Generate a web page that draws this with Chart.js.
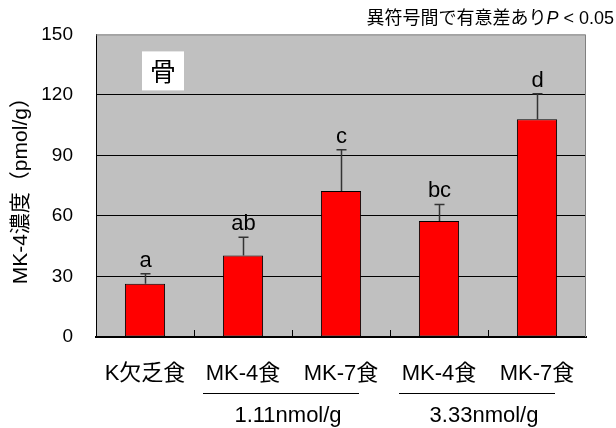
<!DOCTYPE html>
<html>
<head>
<meta charset="utf-8">
<script src="https://cdn.jsdelivr.net/npm/chart.js@4"></script>
<style>
html,body{margin:0;padding:0;background:#fff;}
#wrap{width:616px;height:428px;position:relative;}
</style>
</head>
<body>
<div id="wrap"><canvas id="c" width="616" height="428"></canvas></div>
<script>
// ---- data ----
const categories = ['K欠乏食', 'MK-4食', 'MK-7食', 'MK-4食', 'MK-7食'];
const means = [26.4, 40.4, 72.4, 57.5, 108.0];
const errors = [4.9, 9.0, 20.4, 8.2, 12.6];
const letters = ['a', 'ab', 'c', 'bc', 'd'];
const yTicks = [0, 30, 60, 90, 120, 150];
const groupLabels = ['1.11nmol/g', '3.33nmol/g'];
const groupFirst = [1, 3];
const groupLast = [2, 4];
const panelTitle = '骨';
const noteText = '異符号間で有意差あり';
const noteP = 'P';
const noteTail = ' < 0.05';
const yTitle = 'MK-4濃度（pmol/g）';

const FONT = '"Liberation Sans", "Noto Sans CJK JP", Arial, sans-serif';

const deco = {
  id: 'deco',
  beforeDraw(chart) {
    const {ctx, chartArea: a} = chart;
    ctx.save();
    ctx.fillStyle = '#c0c0c0';
    ctx.fillRect(a.left, a.top, a.right - a.left, a.bottom - a.top);
    ctx.restore();
  },
  afterDatasetsDraw(chart) {
    const {ctx, chartArea: a} = chart;
    const xs = chart.scales.x, ys = chart.scales.y;
    ctx.save();
    // right & top border
    ctx.strokeStyle = '#808080';
    ctx.lineWidth = 1;
    ctx.beginPath();
    ctx.moveTo(a.left, a.top + 0.5); ctx.lineTo(a.right - 0.5, a.top + 0.5);
    ctx.lineTo(a.right - 0.5, a.bottom);
    ctx.stroke();
    // x tick marks between categories (inside)
    ctx.strokeStyle = '#000';
    ctx.beginPath();
    for (let i = 1; i < categories.length; i++) {
      const x = Math.round((xs.getPixelForValue(i - 1) + xs.getPixelForValue(i)) / 2) + 0.5;
      ctx.moveTo(x, a.bottom); ctx.lineTo(x, a.bottom - 7);
    }
    ctx.stroke();
    // error bars + letters
    const meta = chart.getDatasetMeta(0);
    meta.data.forEach((bar, i) => {
      const x = Math.round(bar.x) + 0.5;
      const yTop = ys.getPixelForValue(means[i]);
      const yErr = ys.getPixelForValue(means[i] + errors[i]);
      ctx.strokeStyle = '#333';
      ctx.lineWidth = 1.5;
      ctx.beginPath();
      ctx.moveTo(x, yTop); ctx.lineTo(x, yErr);
      ctx.moveTo(x - 5, yErr); ctx.lineTo(x + 5, yErr);
      ctx.stroke();
      ctx.fillStyle = '#000';
      ctx.font = '22px ' + FONT;
      ctx.textAlign = 'center';
      ctx.textBaseline = 'alphabetic';
      ctx.fillText(letters[i], x, yErr - 7);
    });
    // panel title box
    ctx.fillStyle = '#fff';
    ctx.fillRect(a.left + 46, a.top + 17, 42, 39);
    ctx.fillStyle = '#000';
    ctx.font = '26px "Noto Sans CJK JP"';
    ctx.textAlign = 'center';
    ctx.textBaseline = 'middle';
    ctx.fillText(panelTitle, a.left + 67, a.top + 37);
    ctx.restore();
  },
  afterDraw(chart) {
    const {ctx, chartArea: a} = chart;
    const xs = chart.scales.x;
    ctx.save();
    // group lines and labels
    ctx.strokeStyle = '#000';
    ctx.lineWidth = 1;
    ctx.fillStyle = '#000';
    ctx.font = '22px ' + FONT;
    ctx.textAlign = 'center';
    ctx.textBaseline = 'middle';
    groupLabels.forEach((lab, g) => {
      const x1 = xs.getPixelForValue(groupFirst[g]);
      const x2 = xs.getPixelForValue(groupLast[g]);
      ctx.beginPath();
      ctx.moveTo(x1 - 40, 393.5); ctx.lineTo(x2 + 18, 393.5);
      ctx.stroke();
      ctx.fillText(lab, (x1 + x2) / 2 - 4, 416);
    });
    // note at top right
    ctx.textBaseline = 'middle';
    ctx.textAlign = 'left';
    ctx.font = '18px ' + FONT;
    const w1 = ctx.measureText(noteText).width;
    ctx.font = 'italic 18px ' + FONT;
    const w2 = ctx.measureText(noteP).width;
    ctx.font = '18px ' + FONT;
    const w3 = ctx.measureText(noteTail).width;
    let x = 614 - (w1 + w2 + w3);
    ctx.fillText(noteText, x, 19); x += w1;
    ctx.font = 'italic 18px ' + FONT;
    ctx.fillText(noteP, x, 19); x += w2;
    ctx.font = '18px ' + FONT;
    ctx.fillText(noteTail, x, 19);
    ctx.restore();
  }
};

new Chart(document.getElementById('c'), {
  type: 'bar',
  data: {
    labels: categories,
    datasets: [{
      data: means,
      backgroundColor: '#ff0000',
      borderColor: '#000',
      borderWidth: 1,
      borderSkipped: false,
      categoryPercentage: 1,
      barPercentage: 0.41
    }]
  },
  options: {
    responsive: false,
    animation: false,
    devicePixelRatio: 1,
    layout: { padding: { left: 0, right: 30, top: 32, bottom: 0 } },
    plugins: { legend: { display: false }, tooltip: { enabled: false } },
    scales: {
      x: {
        grid: { display: false, drawTicks: false },
        border: { color: '#000', width: 2 },
        ticks: { color: '#000', font: { family: FONT, size: 22 }, padding: 24, maxRotation: 0, autoSkip: false },
        afterFit(s) { s.height = 91; }
      },
      y: {
        min: 0, max: 150,
        afterBuildTicks(s) { s.ticks = yTicks.map(v => ({ value: v })); },
        grid: {
          drawTicks: false,
          color: ctx => (ctx.tick && (ctx.tick.value === 150 || ctx.tick.value === 0)) ? 'rgba(0,0,0,0)' : '#000',
          lineWidth: 1
        },
        border: { color: '#000', width: 1 },
        ticks: { color: '#000', font: { family: FONT, size: 19 }, padding: 23 },
        title: { display: true, text: yTitle, color: '#000', font: { family: FONT, size: 21 }, padding: { top: 9, bottom: 0 } },
        afterFit(s) { s.width = 96; }
      }
    }
  },
  plugins: [deco]
});
</script>
</body>
</html>
